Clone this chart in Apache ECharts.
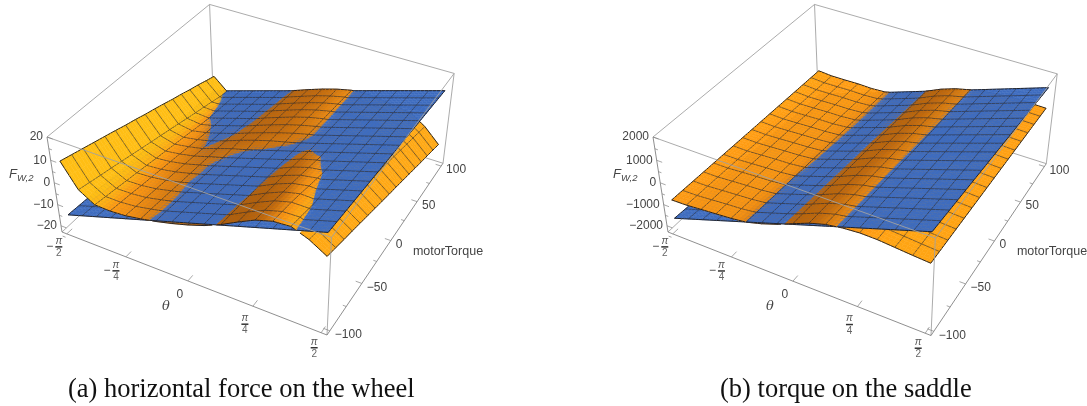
<!DOCTYPE html>
<html><head><meta charset="utf-8">
<script src="https://cdn.jsdelivr.net/npm/echarts@6/dist/echarts.min.js"></script>
<style>html,body{margin:0;padding:0;background:#fff}#c{width:1087px;height:406px}</style>
</head><body><div id="c"></div>
<script>
// Surface values: one inner list per theta node, running along motorTorque from -100 to 100.
const orangeA = [
[9,7.6,6.2,4.8,3.4,2,.5,-.8,-2.3,-3.6,-5,-6.5,-7.8,-9.3,-10.6,-12.1,-13.5],
[-1.3,-2.45,-3.6,-4.65,-5.8,-6.95,-8.1,-9.25,-10.3,-11.45,-12.6,-13.75,-14.9,-15.95,-17.1,-18.25,-19.4],
[-5.6,-6.45,-7.2,-8.05,-8.8,-9.65,-10.5,-11.3,-12.15,-12.9,-13.75,-14.6,-15.35,-16.2,-16.95,-17.8,-18.55],
[-5.85,-6.49,-7.1,-7.86,-8.47,-9.11,-9.75,-10.36,-11.07,-11.73,-12.37,-13.01,-13.62,-14.33,-14.94,-15.63,-16.24],
[-5.35,-5.84,-6.38,-6.91,-7.4,-7.89,-8.43,-8.98,-9.63,-10.18,-10.78,-11.3,-11.82,-12.4,-12.89,-13.38,-13.87],
[-4.15,-4.46,-4.88,-5.33,-5.8,-6.17,-6.56,-6.94,-7.26,-7.76,-8.3,-8.78,-9.33,-9.78,-10.2,-10.7,-11.15],
[-2.7,-2.95,-3.3,-3.7,-4.12,-4.4,-4.75,-4.95,-5,-5.15,-5.75,-6.1,-6.5,-6.9,-7.35,-7.75,-8.25],
[-.93,-1.31,-1.61,-1.99,-2.29,-2.64,-2.89,-3.18,-3.14,-2.85,-3.38,-3.64,-4.01,-4.41,-4.82,-5.28,-5.69],
[1.1,.65,.33,-.04,-.38,-.69,-1.03,-1.29,-1.14,-.78,-1.1,-1.3,-1.62,-2.02,-2.45,-2.86,-3.32],
[3.52,3.02,2.62,2.23,1.83,1.44,.99,.75,.76,.97,.95,.7,.45,.05,-.39,-.85,-1.26],
[6.63,6.18,5.73,5.23,4.78,4.33,3.83,3.35,3.02,2.72,2.7,2.35,2,1.6,1.2,.75,.3],
[10.4,9.9,9.35,8.8,8.25,7.6,6.95,6.25,5.47,4.6,4,3.45,2.9,2.4,1.8,1.3,.8],
[13.89,13.29,12.63,11.85,11.07,10.15,9.18,8.2,7.16,6.12,5.1,4.22,3.34,2.5,1.62,.78,0],
[16.05,15.38,14.61,13.57,12.41,11.34,10.2,9.05,7.93,6.78,5.68,4.61,3.54,2.4,1.33,.14,-.9],
[16.57,15.62,14.6,13.32,12.04,10.85,9.52,8.4,7.22,6.07,4.88,3.78,2.6,1.35,.25,-.87,-2.05],
[13.8,12.6,11.25,10.05,8.7,7.5,6.2,4.95,3.65,2.4,1.2,-.1,-1.35,-2.65,-3.85,-5.2,-6.4],
[9.5,8.1,6.65,5.35,3.9,2.5,1.05,-.35,-1.8,-3.1,-4.55,-5.95,-7.4,-8.8,-10.15,-11.55,-13]
];
const blueA = [
[-15.5,-16.9,-18.25,-19.6,-21],
[-6.75,-8.2,-9.65,-11.1,-12.55],
[2,.45,-1.05,-2.6,-4.15],
[10.75,9.15,7.5,5.9,4.3],
[19.5,17.8,16.1,14.4,12.7]
];
// Rows here run along theta, one row per motorTorque station (-100,-50,0,50,100).
const orangeBRows = [
[-850,-829,-767,-709,-650,-560,-363,-118,178,469,683,800,860,850,790,730,680],
[-904,-902,-855,-809,-780,-700,-509,-266,27,323,541,668,743,755,718,670,628],
[-958,-976,-944,-908,-878,-820,-656,-415,-124,176,399,537,626,660,645,610,575],
[-1012,-1049,-1032,-1008,-1005,-952,-802,-563,-275,30,257,405,508,565,573,550,523],
[-1066,-1122,-1120,-1107,-1131,-1095,-948,-711,-425,-117,115,273,391,470,500,490,470]
];
const blueB = [
[-1711,-1854,-1998,-2141,-2284],
[-783,-926,-1070,-1213,-1356],
[145,2,-142,-285,-428],
[1072,929,785,642,499],
[2000,1857,1714,1570,1427]
];
const thetaTicks = [
 {t:-Math.PI/2,neg:true,den:'2',off:[-8,7]},
 {t:-Math.PI/4,neg:true,den:'4',off:[-10,8]},
 {t:0,zero:true,off:[-8,14]},
 {t:Math.PI/4,den:'4',off:[-8,12]},
 {t:Math.PI/2,den:'2',off:[-7,9]}
];
const torqueTicks = [-100,-50,0,50,100];
const torqueMinor = [-75,-25,25,75];
const zTicksA = [-20,-10,0,10,20];
const zTicksB = [-2000,-1000,0,1000,2000];
const captions = ['(a) horizontal force on the wheel','(b) torque on the saddle'];

const transpose = m => m[0].map((_, i) => m.map(r => r[i]));
const panels = [
 {orange:orangeA, blue:blueA, zMin:-23, zMax:20, zTicks:zTicksA, caption:captions[0], capX:68,
  D:[62,232],Eu:[327,335],Ev:[213,91],Ew:[47,137], shift:0},
 {orange:transpose(orangeBRows), blue:blueB, zMin:-2300, zMax:2000, zTicks:zTicksB, caption:captions[1], capX:720,
  D:[668,232],Eu:[931,335.5],Ev:[818,91],Ew:[653,137], shift:604}
];
const PA=-0.095, PB=0.2, PC=-0.067, PAD=0.02, SUB=4, CELLS=16;
const FONT='"Liberation Sans",Arial,sans-serif';

function projector(p){
 const col=(E,k,d)=>(1+k)*E[d]-p.D[d];
 return (u,v,w)=>{
  const den=1+PA*u+PB*v+PC*w;
  return [0,1].map(d=>(col(p.Eu,PA,d)*u+col(p.Ev,PB,d)*v+col(p.Ew,PC,d)*w+p.D[d])/den);
 };
}
function sample(t,s,v){
 const n=t.length-1,m=t[0].length-1,x=s*n,y=v*m;
 const i=Math.min(Math.floor(x),n-1),j=Math.min(Math.floor(y),m-1),fx=x-i,fy=y-j;
 return t[i][j]*(1-fx)*(1-fy)+t[i+1][j]*fx*(1-fy)+t[i][j+1]*(1-fx)*fy+t[i+1][j+1]*fx*fy;
}
function slopes(t,range){
 const n=t.length-1;
 return t.map((c,i)=>c.map((_,j)=>{
  const a=t[Math.max(i-1,0)][j],b=t[Math.min(i+1,n)][j];
  return (b-a)/((Math.min(i+1,n)-Math.max(i-1,0))/n)/range;
 }));
}
const STOPS=[[-1.4,255,190,20],[-.5,255,176,20],[0,255,156,19],[.35,245,145,18],[.85,194,106,12],[1.3,178,96,10]];
function shade(g){
 if(g<=STOPS[0][0]) return `rgb(${STOPS[0].slice(1)})`;
 for(let k=1;k<STOPS.length;k++) if(g<=STOPS[k][0]){
  const A=STOPS[k-1],B=STOPS[k],f=(g-A[0])/(B[0]-A[0]);
  return `rgb(${[1,2,3].map(q=>Math.round(A[q]+(B[q]-A[q])*f))})`;
 }
 return `rgb(${STOPS[STOPS.length-1].slice(1)})`;
}
const BLUE='#3e6cbf';
function buildPatches(p){
 const pr=projector(p),N=CELLS*SUB,out=[],range=p.zMax-p.zMin,sl=slopes(p.orange,range);
 const pt=(t,a,b)=>{const z=sample(t,a/N,b/N);
  return pr(PAD+(1-2*PAD)*a/N,PAD+(1-2*PAD)*b/N,(z-p.zMin)/range);};
 for(let b=N-1;b>=0;b--) for(let a=0;a<N;a++){
  const pa=[[a,b],[a+1,b],[a+1,b+1],[a,b+1]];
  const gap=pa.map(q=>sample(p.orange,q[0]/N,q[1]/N)-sample(p.blue,q[0]/N,q[1]/N));
  const mixed=gap.some(x=>x>0)&&gap.some(x=>x<0);
  const edges=[];
  if((b+1)%SUB===0) edges.push([3,2,b+1===N]);
  if(a%SUB===0) edges.push([0,3,a===0]);
  if(b===0) edges.push([0,1,true]);
  if(a===N-1) edges.push([1,2,true]);
  let g=sample(sl,(a+.5)/N,(b+.5)/N);
  if((a+.5)/N>.75) g=Math.max(g,-.3);
  const fillO=shade(g);
  const whole=(t,fill)=>{const c=pa.map(q=>pt(t,q[0],q[1]));
   out.push({c,fill,lines:edges.map(e=>[c[e[0]],c[e[1]],e[2]])});};
  if(!mixed){
   const above=gap.reduce((x,y)=>x+y,0)>=0;
   if(above){whole(p.blue,BLUE);whole(p.orange,fillO);}
   else{whole(p.orange,fillO);whole(p.blue,BLUE);}
  } else {
   // The two sheets cross inside this patch: blue whole, then only the orange part above it.
   whole(p.blue,BLUE);
   const cross=(i,j)=>{const f=gap[i]/(gap[i]-gap[j]);
    return pt(p.orange,pa[i][0]+(pa[j][0]-pa[i][0])*f,pa[i][1]+(pa[j][1]-pa[i][1])*f);};
   const poly=[];
   for(let i=0;i<4;i++){const j=(i+1)%4;
    if(gap[i]>=0) poly.push(pt(p.orange,pa[i][0],pa[i][1]));
    if(gap[i]*gap[j]<0) poly.push(cross(i,j));
   }
   const lines=[];
   edges.forEach(e=>{const i=e[0],j=e[1];
    if(gap[i]>=0&&gap[j]>=0) lines.push([pt(p.orange,pa[i][0],pa[i][1]),pt(p.orange,pa[j][0],pa[j][1]),e[2]]);
    else if(gap[i]>=0) lines.push([pt(p.orange,pa[i][0],pa[i][1]),cross(i,j),e[2]]);
    else if(gap[j]>=0) lines.push([cross(i,j),pt(p.orange,pa[j][0],pa[j][1]),e[2]]);
   });
   out.push({c:poly,fill:fillO,lines,thin:true});
  }
 }
 return out;
}
const lineEl=(api,A,B,stroke,w)=>{const a=api.coord(A),b=api.coord(B);
 return {type:'line',silent:true,shape:{x1:a[0],y1:a[1],x2:b[0],y2:b[1]},style:{stroke,lineWidth:w}};};
const textEl=(api,P,text,font,fill,align,dx,dy)=>{const a=api.coord(P);
 return {type:'text',silent:true,style:{x:a[0]+(dx||0),y:a[1]+(dy||0),text,font,fill:fill||'#444',align:align||'center',verticalAlign:'middle',textAlign:align||'center',textVerticalAlign:'middle'}};};

function surfaceSeries(p){
 const patches=buildPatches(p);
 return {type:'custom',coordinateSystem:'cartesian2d',z:2,silent:true,animation:false,progressive:0,clip:false,
  data:patches.map(()=>[0,0]),
  renderItem(params,api){
   const q=patches[params.dataIndex],children=[{type:'polygon',silent:true,
     shape:{points:q.c.map(x=>api.coord(x))},style:{fill:q.fill,stroke:q.fill,lineWidth:q.thin?.2:.5}}];
   q.lines.forEach(l=>children.push(lineEl(api,l[0],l[1],l[2]?'#1e1e22':'rgba(40,40,45,.8)',l[2]?.95:.75)));
   return {type:'group',children};
  }};
}
function boxSeries(p,front){
 const pr=projector(p);
 const back=[[[0,0,1],[0,1,1]],[[0,1,1],[1,1,1]],[[0,1,1],[0,1,0]],[[0,0,0],[0,1,0]],[[0,1,0],[1,1,0]],[[1,1,0],[1,1,1]]];
 const fr=[[[1,0,0],[1,0,1]],[[0,0,1],[1,0,1]],[[1,0,1],[1,1,1]],[[0,0,0],[0,0,1]],[[0,0,0],[1,0,0]],[[1,0,0],[1,1,0]]];
 const range=p.zMax-p.zMin,W=z=>(z-p.zMin)/range,pad=x=>PAD+(1-2*PAD)*x;
 return {type:'custom',coordinateSystem:'cartesian2d',z:front?3:1,silent:true,animation:false,clip:false,data:[[0,0]],
  renderItem(params,api){
   const ch=[];
   (front?fr:back).forEach((e,i)=>ch.push(lineEl(api,pr(...e[0]),pr(...e[1]),front&&i>2?'#828282':'#a2a2a2',.9)));
   if(!front) return {type:'group',children:ch};
   const F12=`12px ${FONT}`;
   const step=p.zTicks[1]-p.zTicks[0];
   for(let z=p.zTicks[0]-step/2;z<=p.zMax;z+=step/2){
    const major=p.zTicks.includes(z);
    ch.push(lineEl(api,pr(0,0,W(z)),pr(major?.022:.012,0,W(z)),'#828282',.7));
   }
   p.zTicks.forEach(z=>ch.push(textEl(api,pr(0,0,W(z)),String(z).replace('-','\u2212'),F12,'#444','right',-4,0)));
   torqueMinor.forEach(T=>{const v=pad((T+100)/200);ch.push(lineEl(api,pr(1,v,0),pr(.988,v,0),'#828282',.7));});
   torqueTicks.forEach(T=>{const v=pad((T+100)/200);
    ch.push(lineEl(api,pr(1,v,0),pr(.978,v,0),'#828282',.7));
    ch.push(textEl(api,pr(1,v,0),String(T).replace('-','\u2212'),F12,'#444','left',5,4));
   });
   thetaTicks.forEach(k=>{const u=pad((k.t+Math.PI/2)/Math.PI),A=pr(u,0,0);
    ch.push(lineEl(api,A,pr(u,.03,0),'#828282',.7));
    const x=k.off[0],y=k.off[1];
    if(k.zero){ch.push(textEl(api,A,'0',F12,'#444','center',x,y));return;}
    ch.push(textEl(api,A,'\u03c0',`italic 10px ${FONT}`,'#555','center',x,y));
    ch.push(textEl(api,A,k.den,`10px ${FONT}`,'#666','center',x,y+12.5));
    const a=api.coord(A);
    ch.push({type:'line',silent:true,shape:{x1:a[0]+x-3.5,y1:a[1]+y+6,x2:a[0]+x+3.5,y2:a[1]+y+6},style:{stroke:'#333',lineWidth:1.5}});
    if(k.neg) ch.push(textEl(api,A,'\u2212',`12px ${FONT}`,'#444','center',x-9,y+5.5));
   });
   const s=p.shift;
   ch.push(textEl(api,[448+s,252],'motorTorque',`12.5px ${FONT}`,'#444'));
   ch.push(textEl(api,[166+s,307],'\u03b8',`italic 13px "DejaVu Serif",serif`,'#444'));
   ch.push(textEl(api,[13+s,174],'F',`italic 13px ${FONT}`,'#444'));
   ch.push(textEl(api,[17+s,178],'W,2',`italic 9.5px ${FONT}`,'#444','left'));
   ch.push(textEl(api,[p.capX,390],p.caption,`26.5px "Liberation Serif",serif`,'#111','left'));
   return {type:'group',children:ch};
  }};
}
const chart=echarts.init(document.getElementById('c'));
chart.setOption({
 animation:false,backgroundColor:'#fff',
 grid:{left:0,right:0,top:0,bottom:0},
 xAxis:{type:'value',min:0,max:1087,show:false},
 yAxis:{type:'value',min:0,max:406,inverse:true,show:false},
 series:panels.flatMap(p=>[boxSeries(p,false),surfaceSeries(p),boxSeries(p,true)])
});
</script></body></html>
